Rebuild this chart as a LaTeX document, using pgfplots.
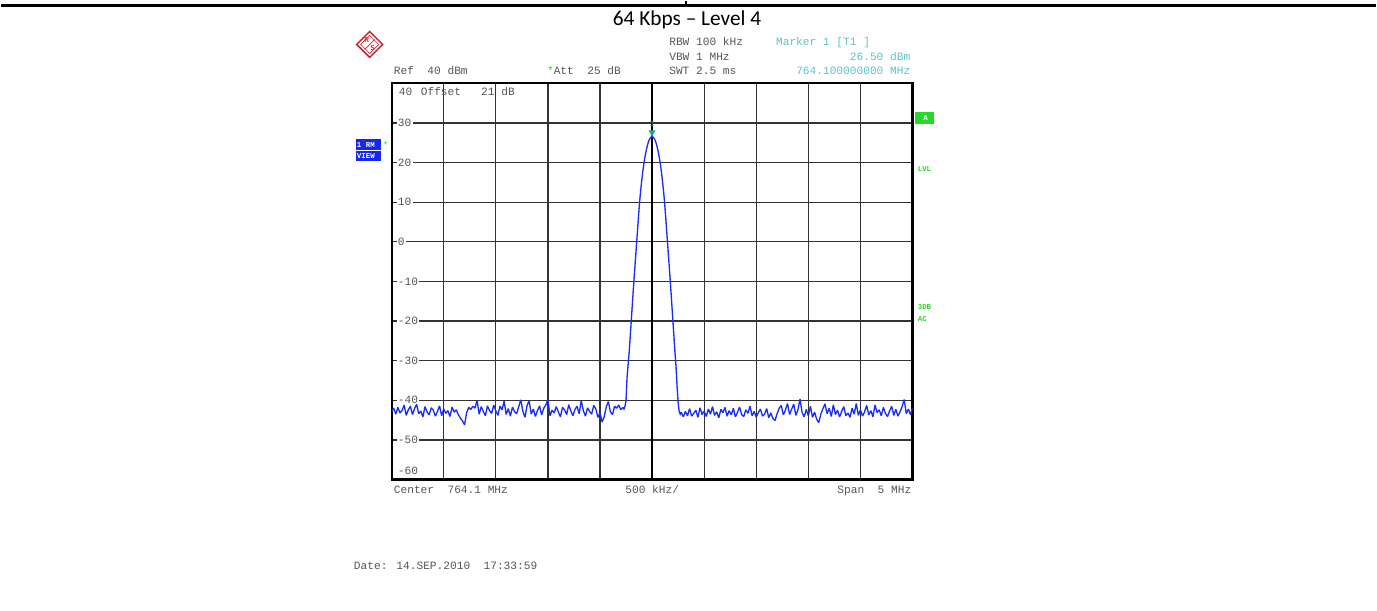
\documentclass[border=0pt]{standalone}
\usepackage{pgfplots}
\pgfplotsset{compat=1.18}
\usepackage{pgfplotstable}
\usepackage{fontspec}
\setmainfont{Liberation Sans}
\newfontfamily\mono{Liberation Mono}
\newfontfamily\calib{Carlito}
\definecolor{trace}{RGB}{25,45,250}
\definecolor{txtgray}{RGB}{85,85,85}
\definecolor{mkcyan}{RGB}{90,195,200}
\definecolor{rsgreen}{RGB}{40,215,40}
\definecolor{vblue}{RGB}{20,40,240}
\definecolor{rsred}{RGB}{215,30,40}
\definecolor{marker}{RGB}{30,165,165}
\newcommand{\mt}{\mono\fontsize{8.4}{10}\selectfont}
\newcommand{\st}{\mono\bfseries\fontsize{5.6}{6}\selectfont}

\pgfplotstableread{
y
-42.8
-42.0
-43.5
-41.8
-43.2
-42.6
-41.2
-43.8
-42.4
-41.5
-43.6
-42.1
-41.0
-43.4
-42.7
-44.2
-41.6
-42.9
-43.7
-41.9
-42.5
-44.0
-42.8
-41.4
-43.9
-42.2
-43.3
-42.6
-44.1
-41.7
-43.0
-42.4
-43.6
-44.5
-45.2
-46.2
-43.1
-41.8
-42.3
-41.5
-42.0
-40.0
-43.5
-41.6
-42.8
-43.9
-41.4
-42.6
-43.3
-41.2
-42.7
-43.8
-41.5
-42.4
-40.2
-43.6
-42.1
-44.0
-41.7
-42.9
-43.4
-41.6
-39.9
-42.8
-44.3
-41.3
-40.1
-43.5
-42.2
-44.1
-42.6
-41.4
-43.7
-42.0
-41.2
-39.8
-43.9
-42.5
-43.2
-41.6
-42.9
-44.2
-41.8
-42.4
-43.6
-41.1
-42.7
-43.9
-42.3
-41.5
-43.4
-40.1
-42.6
-44.0
-41.9
-42.8
-43.5
-41.3
-42.2
-44.3
-43.1
-45.5
-44.2
-41.7
-40.3
-42.9
-43.6
-41.5
-42.0
-41.2
-42.4
-41.8
}\leftnoise

\pgfplotstableread{
x y
-0.28 -41.8
-0.27 -42.2
-0.26 -41.5
-0.25 -40.0
-0.24 -34.0
-0.23 -31.0
-0.22 -28.0
-0.21 -24.0
-0.20 -20.0
-0.19 -16.0
-0.18 -12.0
-0.17 -8.2
-0.16 -4.5
-0.15 -0.8
-0.14 2.8
-0.13 6.5
-0.12 10.0
-0.11 12.8
-0.10 15.3
-0.09 17.6
-0.08 19.5
-0.07 21.2
-0.06 22.6
-0.05 23.8
-0.04 24.8
-0.03 25.6
-0.02 26.1
-0.01 26.4
0.00 26.5
0.01 26.4
0.02 26.1
0.03 25.6
0.04 24.8
0.05 23.8
0.06 22.6
0.07 21.2
0.08 19.5
0.09 17.6
0.10 15.3
0.11 12.8
0.12 10.0
0.13 6.5
0.14 2.8
0.15 -0.8
0.16 -4.5
0.17 -8.2
0.18 -12.0
0.19 -16.0
0.20 -20.0
0.21 -24.0
0.22 -28.0
0.23 -31.5
0.24 -36.5
0.25 -40.5
0.26 -42.8
0.27 -43.5
0.28 -43.0
}\peak

\pgfplotstableread{
y
-43.0
-44.2
-42.8
-43.9
-42.1
-44.0
-43.3
-42.5
-44.3
-41.9
-43.6
-42.7
-44.1
-42.2
-43.5
-41.6
-43.8
-42.9
-44.4
-42.3
-43.1
-41.8
-44.0
-42.6
-43.7
-42.0
-44.2
-43.0
-41.7
-43.6
-44.1
-42.4
-43.3
-41.5
-43.9
-42.8
-44.3
-43.1
-42.2
-44.0
-43.5
-42.1
-44.4
-43.2
-44.6
-45.1
-43.4
-42.0
-41.3
-43.7
-42.5
-40.8
-43.6
-42.2
-41.0
-43.8
-42.4
-39.7
-43.1
-44.2
-42.3
-43.9
-41.5
-44.3
-43.0
-44.8
-45.6
-43.5
-42.1
-40.9
-43.4
-42.0
-44.1
-41.1
-43.6
-42.5
-44.2
-42.8
-41.6
-43.9
-43.2
-44.3
-42.0
-43.5
-40.8
-43.8
-42.4
-44.0
-42.9
-41.3
-43.7
-42.6
-44.2
-41.2
-43.1
-42.4
-43.9
-41.8
-43.3
-44.1
-42.7
-41.5
-43.8
-42.3
-44.0
-42.9
-41.6
-39.8
-43.4
-42.2
-43.6
-41.9
}\rightnoise

\begin{document}
\begin{tikzpicture}
\begin{axis}[
  set layers,
  scale only axis,
  width=391.5pt, height=297.75pt,
  at={(293.25pt,-360pt)}, anchor=south west,
  xmin=-2.5, xmax=2.5, ymin=-60, ymax=40,
  xtick={-2,-1.5,-1,-0.5,0.5,1,1.5,2},
  xticklabels={},
  extra x ticks={0},
  extra x tick labels={},
  extra x tick style={grid style={black, line width=1.5pt}},
  ytick={-50,-40,-30,-20,-10,0,10,20,30},
  yticklabels={-50,-40,-30,-20,-10,0,10,20,30},
  yticklabel style={font=\mt, text=txtgray, anchor=west, xshift=3.5pt, fill=white, inner sep=1pt},
  major tick length=0pt,
  grid=major,
  grid style={black!80, line width=1pt},
  axis line style={black, line width=1.6pt},
  clip=true,
]
\addplot[trace, line width=1pt, line join=bevel] table[x expr={-2.5+0.02*\coordindex}, y=y] {\leftnoise};
\addplot[trace, line width=1pt] table[x=x, y=y] {\peak};
\addplot[trace, line width=1pt, line join=bevel] table[x expr={0.28+0.02*\coordindex}, y=y] {\rightnoise};
\addplot[only marks, mark=triangle*, mark size=2.6pt, marker, mark options={rotate=180}] coordinates {(0,27.6)};
\end{axis}
\begin{scope}[x=0.75pt, y=-0.75pt]
\path (0,0) rectangle (1377,611);
\draw[black, line width=2.2pt] (0,5) -- (1377,5);
\draw[black, line width=0.8pt] (686,0) -- (686,5);
\node[font=\calib\fontsize{16}{18}\selectfont] at (687,19) {64 Kbps – Level 4};
% logo
\draw[rsred, line width=1.1pt] (369,31)--(382,44)--(369,57)--(356,44)--cycle;
\draw[rsred, line width=0.5pt] (369,35)--(378,44)--(369,53)--(360,44)--cycle;
\draw[rsred, line width=0.5pt] (374,39)--(364,49);
\node[rsred, font=\sffamily\bfseries\fontsize{5.5}{6}\selectfont, inner sep=0pt] at (366,40) {R};
\node[rsred, font=\sffamily\bfseries\fontsize{5.5}{6}\selectfont, inner sep=0pt] at (372,48) {S};
% header text
\node[anchor=base west, inner sep=0pt, text=txtgray, font=\mt] at (393,74) {Ref~~40 dBm};
\node[anchor=base west, inner sep=0pt, text=txtgray, font=\mt] at (546.5,74) {\textcolor{rsgreen}{*}Att~~25 dB};
\node[anchor=base west, inner sep=0pt, text=txtgray, font=\mt] at (669,45) {RBW 100 kHz};
\node[anchor=base west, inner sep=0pt, text=txtgray, font=\mt] at (669,60) {VBW 1 MHz};
\node[anchor=base west, inner sep=0pt, text=txtgray, font=\mt] at (669,74) {SWT 2.5 ms};
\node[anchor=base west, inner sep=0pt, text=mkcyan, font=\mt] at (776,45) {Marker 1 [T1 ]};
\node[anchor=base east, inner sep=0pt, text=mkcyan, font=\mt] at (911,60) {26.50 dBm};
\node[anchor=base east, inner sep=0pt, text=mkcyan, font=\mt] at (911,74) {764.100000000 MHz};
% in-plot text
\node[anchor=base west, inner sep=0pt, text=txtgray, font=\mt] at (398,95) {40};
\node[anchor=base west, inner sep=0pt, text=txtgray, font=\mt] at (420,95) {Offset~~~21 dB};
\node[anchor=base west, inner sep=0pt, text=txtgray, font=\mt, fill=white] at (397,475) {-60};
\node[inner sep=0pt, text=marker, font=\mono\fontsize{6}{6}\selectfont] at (652,124) {1};
% bottom text
\node[anchor=base west, inner sep=0pt, text=txtgray, font=\mt] at (393,494) {Center~~764.1 MHz};
\node[anchor=base west, inner sep=0pt, text=txtgray, font=\mt] at (625,494) {500 kHz/};
\node[anchor=base east, inner sep=0pt, text=txtgray, font=\mt] at (912,494) {Span~~5 MHz};
\node[anchor=base west, inner sep=0pt, text=txtgray, font=\mt] at (353,570) {Date: 14.SEP.2010~~17:33:59};
% left box
\fill[vblue] (355,139) rectangle (380,161);
\draw[white, line width=0.4pt] (355,150) -- (380,150);
\node[anchor=west, inner sep=0pt, text=white, font=\st] at (356,145) {1 RM};
\node[anchor=west, inner sep=0pt, text=white, font=\st] at (356,156) {VIEW};
\node[inner sep=0pt, text=rsgreen, font=\mono\fontsize{7}{7}\selectfont] at (385,145) {*};
% right side
\fill[rsgreen] (915,112) rectangle (935,124);
\node[inner sep=0pt, text=white, font=\st] at (926,118) {A};
\node[anchor=west, inner sep=0pt, text=rsgreen, font=\st] at (918,169) {LVL};
\node[anchor=west, inner sep=0pt, text=rsgreen, font=\st] at (918,307) {3DB};
\node[anchor=west, inner sep=0pt, text=rsgreen, font=\st] at (918,319) {AC};
\end{scope}
\end{tikzpicture}
\end{document}
